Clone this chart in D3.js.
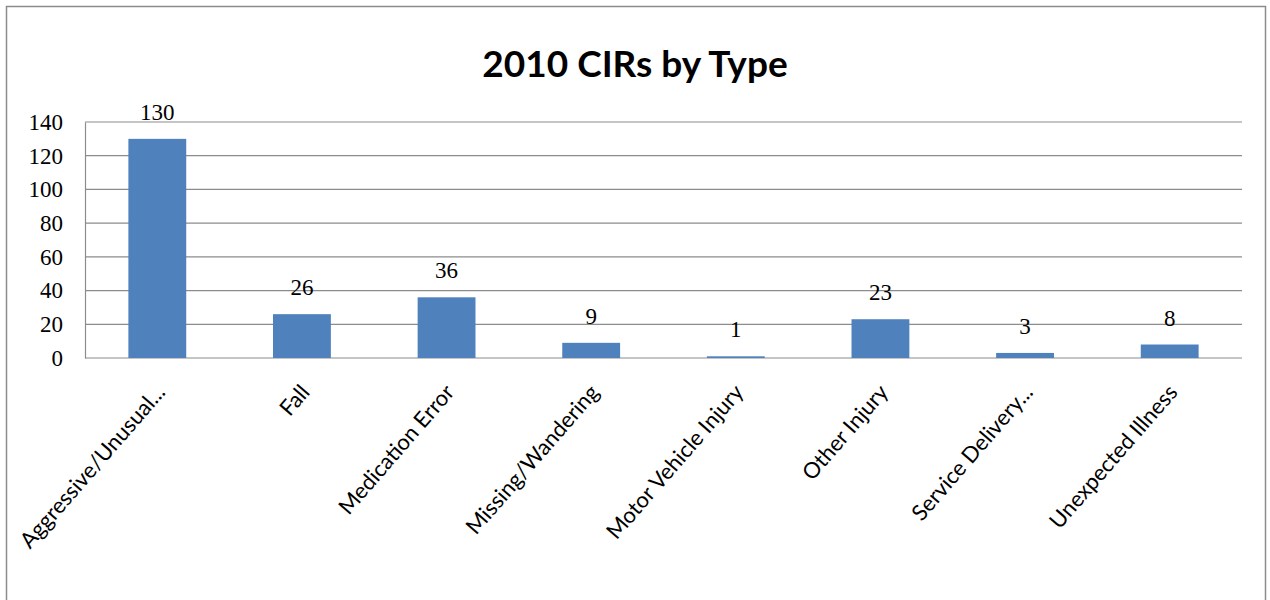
<!DOCTYPE html>
<html>
<head>
<meta charset="utf-8">
<script src="https://cdn.jsdelivr.net/npm/d3@7"></script>
<style>
  body { margin: 0; background: #fff; }
</style>
</head>
<body>
<div id="wrapper"></div>
<script>
// data
const categories = ["Aggressive/Unusual...", "Fall", "Medication Error", "Missing/Wandering",
    "Motor Vehicle Injury", "Other Injury", "Service Delivery...", "Unexpected Illness"];
const counts = [130, 26, 36, 9, 1, 23, 3, 8];
const yTicks = [0, 20, 40, 60, 80, 100, 120, 140];

const dimension = {
    width: 1270,
    height: 600,
    margin: { top: 122, left: 85, bottom: 242, right: 28 }
};
dimension.boundedWidth = dimension.width - dimension.margin.left - dimension.margin.right;
dimension.boundedHeight = dimension.height - dimension.margin.top - dimension.margin.bottom;

const svg = d3.select("#wrapper").append("svg")
    .attr("width", dimension.width)
    .attr("height", dimension.height);

// outer frame (bottom edge runs off the picture)
svg.append("rect")
    .attr("x", 6.5).attr("y", 6.5)
    .attr("width", 1259).attr("height", 620)
    .attr("fill", "none")
    .attr("stroke", "#8c8c8c")
    .attr("stroke-width", 1.5);

svg.append("text")
    .attr("x", 635).attr("y", 77)
    .attr("text-anchor", "middle")
    .style("font-family", "Lato, 'Open Sans', sans-serif")
    .style("font-weight", "bold")
    .style("font-size", "37px")
    .text("2010 CIRs by Type");

const bounded = svg.append("g")
    .attr("transform", `translate(${dimension.margin.left}, ${dimension.margin.top})`);

const xScaler = d3.scaleBand()
    .domain(categories)
    .range([0, dimension.boundedWidth])
    .paddingInner(0.6)
    .paddingOuter(0.3);

const yScaler = d3.scaleLinear()
    .domain([0, 140])
    .range([dimension.boundedHeight, 0]);

// gridlines
bounded.append("g")
    .selectAll("line")
    .data(yTicks)
    .join("line")
    .attr("x1", 0).attr("x2", dimension.boundedWidth)
    .attr("y1", d => yScaler(d)).attr("y2", d => yScaler(d))
    .attr("stroke", "#8c8c8c")
    .attr("stroke-width", 1.2);

// y axis
const yAxis = d3.axisLeft(yScaler).tickValues(yTicks).tickSize(0).tickPadding(22);
const yG = bounded.append("g").call(yAxis);
yG.select(".domain").attr("stroke", "#8c8c8c").attr("stroke-width", 1.2);
yG.selectAll("text")
    .style("font-family", "'Liberation Serif', serif")
    .style("font-size", "23px")
    .attr("fill", "#000");

// bars
bounded.selectAll("rect.bar")
    .data(counts)
    .join("rect")
    .attr("class", "bar")
    .attr("x", (d, i) => xScaler(categories[i]))
    .attr("width", xScaler.bandwidth())
    .attr("y", d => yScaler(d))
    .attr("height", d => dimension.boundedHeight - yScaler(d))
    .attr("fill", "#4f81bd");

// value labels
bounded.selectAll("text.value")
    .data(counts)
    .join("text")
    .attr("class", "value")
    .attr("x", (d, i) => xScaler(categories[i]) + xScaler.bandwidth() / 2)
    .attr("y", d => yScaler(d) - 19)
    .attr("text-anchor", "middle")
    .style("font-family", "'Liberation Serif', serif")
    .style("font-size", "23px")
    .text(d => d);

// x axis, rotated labels
const xAxis = d3.axisBottom(xScaler).tickSize(0).tickPadding(0);
const xG = bounded.append("g")
    .attr("transform", `translate(0, ${dimension.boundedHeight})`)
    .call(xAxis);
xG.select(".domain").remove();
xG.selectAll("text")
    .style("font-family", "Lato, 'Open Sans', sans-serif")
    .style("font-size", "22px")
    .attr("fill", "#000")
    .attr("text-anchor", "end")
    .attr("dy", "0")
    .attr("transform", "translate(9, 35) rotate(-49)");
</script>
</body>
</html>
